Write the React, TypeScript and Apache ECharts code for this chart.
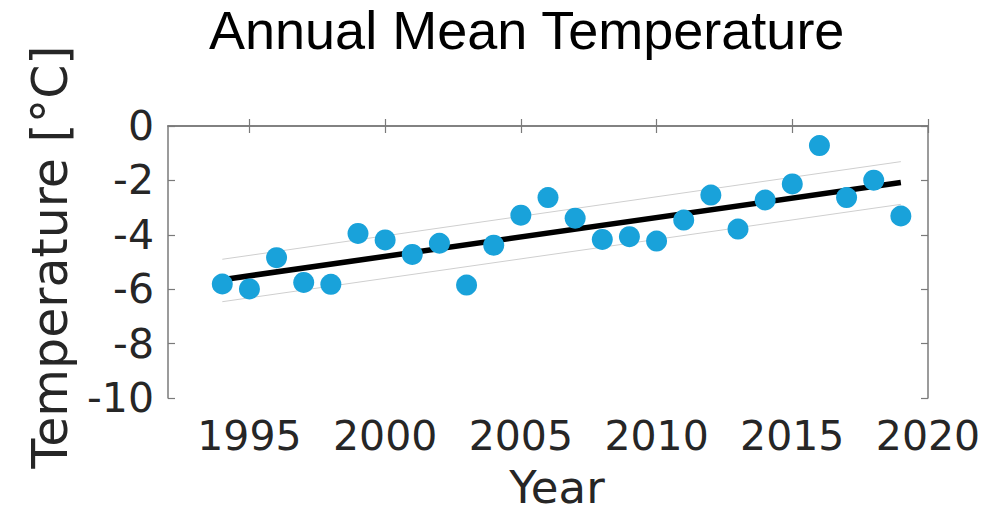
import React, { useEffect, useRef } from "react";
import * as echarts from "echarts";

const years = [1994, 1995, 1996, 1997, 1998, 1999, 2000, 2001, 2002, 2003, 2004, 2005, 2006, 2007, 2008, 2009, 2010, 2011, 2012, 2013, 2014, 2015, 2016, 2017, 2018, 2019];
const temps = [-5.81, -5.99, -4.84, -5.75, -5.82, -3.95, -4.19, -4.72, -4.31, -5.85, -4.38, -3.28, -2.63, -3.39, -4.17, -4.07, -4.23, -3.46, -2.54, -3.79, -2.72, -2.13, -0.72, -2.63, -1.99, -3.31];
const trendYears = [1994, 2019];
const trendValues = [-5.65, -2.08];
const upperValues = [-4.9, -1.31];
const lowerValues = [-6.46, -2.88];
const xTicks = [1995, 2000, 2005, 2010, 2015, 2020];
const yTicks = [0, -2, -4, -6, -8, -10];

const pairs = (xs: number[], ys: number[]) => xs.map((x, i) => [x, ys[i]]);

export default function App() {
  const ref = useRef<HTMLDivElement>(null);
  useEffect(() => {
    if (!ref.current) return;
    const chart = echarts.init(ref.current, undefined, { renderer: "svg" });
    const axisColor = "#7a7a7a";
    const labelColor = "#262626";
    const font = "DejaVu Sans";
    const plain = (v: number) => String(v);
    chart.setOption({
      animation: false,
      backgroundColor: "#ffffff",
      title: {
        text: "Annual Mean Temperature",
        left: 209,
        top: 3,
        padding: 0,
        textStyle: { fontFamily: "Liberation Sans", fontSize: 54, fontWeight: "normal", color: "#000" },
      },
      grid: { left: 168, top: 126, right: 61, bottom: 117, containLabel: false, outerBoundsMode: "none" },
      xAxis: [
        {
          type: "value",
          min: 1992,
          max: 2020,
          name: "Year",
          nameLocation: "middle",
          nameGap: 70,
          nameTextStyle: { fontFamily: font, fontSize: 45, lineHeight: 38, color: labelColor, padding: [0, 0, 0, 18] },
          axisLine: { show: true, lineStyle: { color: axisColor, width: 1.5 } },
          axisTick: { show: true, inside: true, length: 7, customValues: xTicks, lineStyle: { color: axisColor, width: 1.2 } },
          axisLabel: { show: true, customValues: xTicks, margin: 17, fontFamily: font, fontSize: 41, color: labelColor, formatter: plain },
          splitLine: { show: false },
        },
        {
          type: "value",
          position: "top",
          min: 1992,
          max: 2020,
          axisLine: { show: true, lineStyle: { color: axisColor, width: 1.5 } },
          axisTick: { show: true, inside: true, length: 7, customValues: xTicks, lineStyle: { color: axisColor, width: 1.2 } },
          axisLabel: { show: false },
          splitLine: { show: false },
        },
      ],
      yAxis: [
        {
          type: "value",
          min: -10,
          max: 0,
          interval: 2,
          name: "Temperature [°C]",
          nameLocation: "middle",
          nameGap: 93,
          nameTextStyle: { fontFamily: font, fontSize: 49, color: labelColor, padding: [0, 0, 0, 10] },
          axisLine: { show: true, lineStyle: { color: axisColor, width: 1.5 } },
          axisTick: { show: true, inside: true, length: 7, lineStyle: { color: axisColor, width: 1.2 } },
          axisLabel: { show: true, margin: 14, fontFamily: font, fontSize: 41, color: labelColor, customValues: yTicks, formatter: plain },
          splitLine: { show: false },
        },
        {
          type: "value",
          position: "right",
          min: -10,
          max: 0,
          interval: 2,
          axisLine: { show: true, lineStyle: { color: axisColor, width: 1.5 } },
          axisTick: { show: true, inside: true, length: 7, lineStyle: { color: axisColor, width: 1.2 } },
          axisLabel: { show: false },
          splitLine: { show: false },
        },
      ],
      series: [
        {
          type: "line",
          data: pairs(trendYears, upperValues),
          symbol: "none",
          lineStyle: { color: "#cfcfcf", width: 1 },
          z: 2,
        },
        {
          type: "line",
          data: pairs(trendYears, lowerValues),
          symbol: "none",
          lineStyle: { color: "#cfcfcf", width: 1 },
          z: 2,
        },
        {
          type: "line",
          data: pairs(trendYears, trendValues),
          symbol: "none",
          lineStyle: { color: "#000000", width: 5.5 },
          z: 3,
        },
        {
          type: "scatter",
          data: pairs(years, temps),
          symbol: "circle",
          symbolSize: 21,
          itemStyle: { color: "#19a2da", opacity: 1 },
          z: 4,
        },
      ],
    });
    return () => chart.dispose();
  }, []);
  return (
    <div
      ref={ref}
      style={{ position: "fixed", left: 0, top: 0, width: 989, height: 515, background: "#fff" }}
    />
  );
}
